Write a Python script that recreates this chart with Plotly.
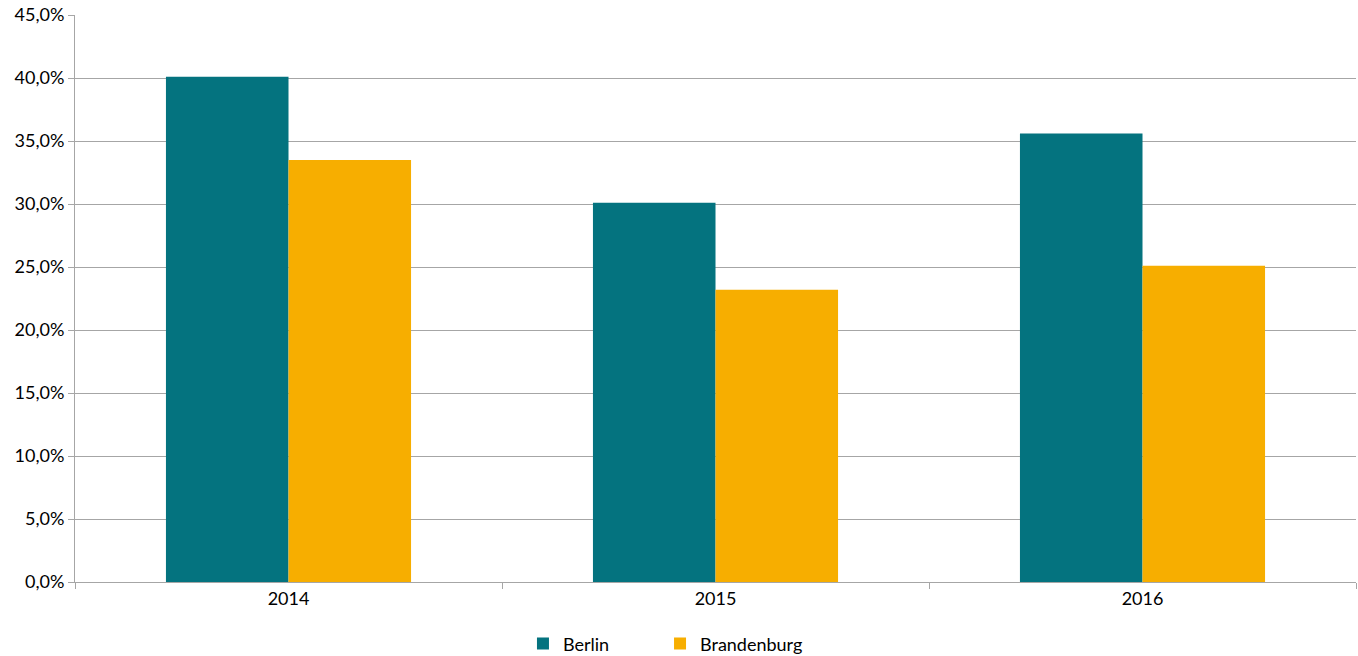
import plotly.graph_objects as go

years = ["2014", "2015", "2016"]
berlin = [40.1, 30.1, 35.6]
brandenburg = [33.5, 23.2, 25.1]
y_ticks = [0, 5, 10, 15, 20, 25, 30, 35, 40, 45]
y_labels = [f"{v:.1f}%".replace(".", ",") for v in y_ticks]

FONT = "Lato, 'Open Sans', sans-serif"

fig = go.Figure()
fig.add_trace(go.Bar(name="Berlin", x=years, y=berlin, marker_color="#04737F",
                     marker_line_width=0, legend="legend"))
fig.add_trace(go.Bar(name="Brandenburg", x=years, y=brandenburg, marker_color="#F7AE00",
                     marker_line_width=0, legend="legend2"))

leg_common = dict(orientation="h", y=-0.109, yanchor="middle", xanchor="left",
                  font=dict(size=18), itemwidth=30, bgcolor="rgba(0,0,0,0)")

fig.update_layout(
    width=1358, height=656,
    barmode="group", bargap=0.426, bargroupgap=0,
    plot_bgcolor="white", paper_bgcolor="white",
    margin=dict(l=75, r=2, t=15, b=74, autoexpand=False),
    font=dict(family=FONT, size=18, color="#000000"),
    showlegend=True,
    legend=dict(x=0.3497, **leg_common),
    legend2=dict(x=0.4567, **leg_common),
)
fig.update_yaxes(range=[0, 45], tickvals=y_ticks, ticktext=y_labels,
                 showgrid=True, gridcolor="#A6A6A6", gridwidth=1,
                 showline=True, linecolor="#A6A6A6", linewidth=1,
                 ticks="outside", ticklen=6, tickcolor="#A6A6A6",
                 zeroline=False, fixedrange=True, automargin=False)
fig.update_xaxes(showline=True, linecolor="#A6A6A6", linewidth=1,
                 ticks="outside", ticklen=6, tickcolor="#A6A6A6",
                 tickson="boundaries", showgrid=False, fixedrange=True, automargin=False)

fig.write_html("out.html", config={"displayModeBar": False},
               post_script="document.body.style.margin='0';")
